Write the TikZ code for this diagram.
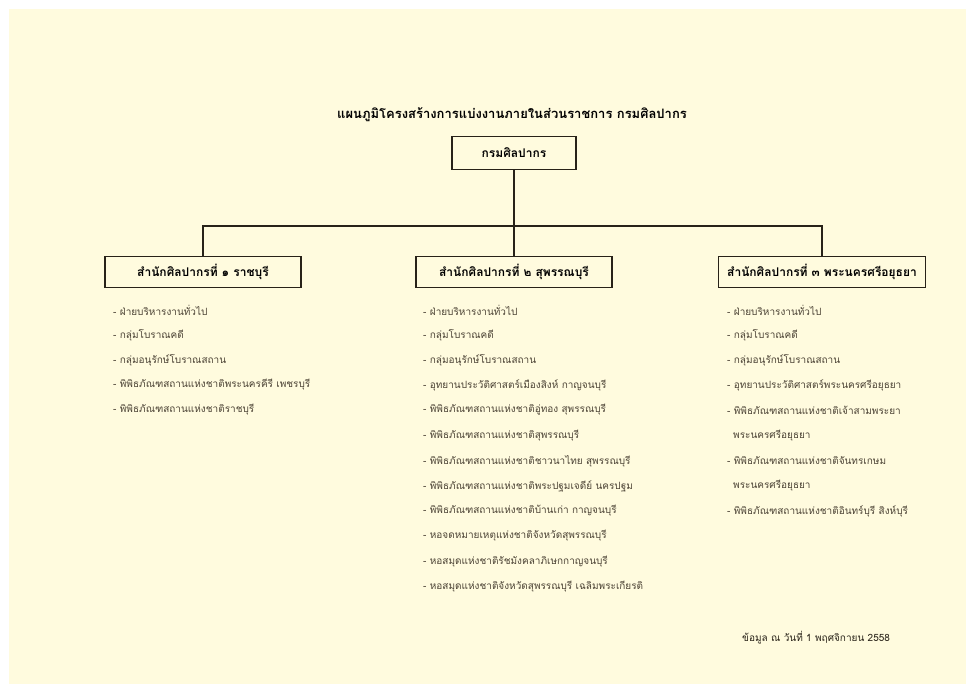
\documentclass[tikz,border=0pt]{standalone}
\usepackage{fontspec}
\newfontfamily\thai[Script=Thai]{Loma}
\definecolor{cream}{RGB}{255,251,222}
\definecolor{ink}{RGB}{40,34,24}
\definecolor{itemc}{RGB}{75,66,52}
\begin{document}
\begin{tikzpicture}[x=1pt,y=-1pt,
  box/.style={draw=ink,line width=1.3pt,fill=cream,inner sep=0pt,minimum height=31pt,font=\thai\bfseries\fontsize{12}{14}\selectfont,text=black},
  item/.style={anchor=west,inner sep=0pt,font=\thai\fontsize{10}{12}\selectfont,text=itemc},
  conn/.style={draw=ink,line width=1.3pt}]
\useasboundingbox (0,0) rectangle (966,684);
\fill[white] (0,0) rectangle (966,684);
\fill[cream] (9,9) rectangle (966,684);
\node[inner sep=0pt,font=\thai\bfseries\fontsize{13}{15}\selectfont,text=black] (title) at (512,115) {แผนภูมิโครงสร้างการแบ่งงานภายในส่วนราชการ กรมศิลปากร};
\node[box,minimum width=124pt,minimum height=33pt] (top) at (514,153) {กรมศิลปากร};
\node[box,minimum width=196pt] (b1) at (203,272) {สำนักศิลปากรที่ ๑ ราชบุรี};
\node[box,minimum width=196pt] (b2) at (514,272) {สำนักศิลปากรที่ ๒ สุพรรณบุรี};
\node[box,minimum width=207pt] (b3) at (822,272) {สำนักศิลปากรที่ ๓ พระนครศรีอยุธยา};
\coordinate (j) at (514,226);
\draw[conn] (top.south) -- (b2.north);
\draw[conn] (j) -| (b1.north);
\draw[conn] (j) -| (b3.north);
% left column
\node[item] (l1) at (113,310) {- ฝ่ายบริหารงานทั่วไป};
\node[item] (l2) at (113,335) {- กลุ่มโบราณคดี};
\node[item] (l3) at (113,360) {- กลุ่มอนุรักษ์โบราณสถาน};
\node[item] (l4) at (113,385) {- พิพิธภัณฑสถานแห่งชาติพระนครคีรี เพชรบุรี};
\node[item] (l5) at (113,410) {- พิพิธภัณฑสถานแห่งชาติราชบุรี};
% middle column
\node[item] (m1) at (423,310) {- ฝ่ายบริหารงานทั่วไป};
\node[item] (m2) at (423,335) {- กลุ่มโบราณคดี};
\node[item] (m3) at (423,360) {- กลุ่มอนุรักษ์โบราณสถาน};
\node[item] (m4) at (423,385) {- อุทยานประวัติศาสตร์เมืองสิงห์ กาญจนบุรี};
\node[item] (m5) at (423,410) {- พิพิธภัณฑสถานแห่งชาติอู่ทอง สุพรรณบุรี};
\node[item] (m6) at (423,436) {- พิพิธภัณฑสถานแห่งชาติสุพรรณบุรี};
\node[item] (m7) at (423,461) {- พิพิธภัณฑสถานแห่งชาติชาวนาไทย สุพรรณบุรี};
\node[item] (m8) at (423,486) {- พิพิธภัณฑสถานแห่งชาติพระปฐมเจดีย์ นครปฐม};
\node[item] (m9) at (423,511) {- พิพิธภัณฑสถานแห่งชาติบ้านเก่า กาญจนบุรี};
\node[item] (m10) at (423,536) {- หอจดหมายเหตุแห่งชาติจังหวัดสุพรรณบุรี};
\node[item] (m11) at (423,562) {- หอสมุดแห่งชาติรัชมังคลาภิเษกกาญจนบุรี};
\node[item] (m12) at (423,587) {- หอสมุดแห่งชาติจังหวัดสุพรรณบุรี เฉลิมพระเกียรติ};
% right column
\node[item] (r1) at (727,310) {- ฝ่ายบริหารงานทั่วไป};
\node[item] (r2) at (727,335) {- กลุ่มโบราณคดี};
\node[item] (r3) at (727,360) {- กลุ่มอนุรักษ์โบราณสถาน};
\node[item] (r4) at (727,385) {- อุทยานประวัติศาสตร์พระนครศรีอยุธยา};
\node[item] (r5) at (727,410) {- พิพิธภัณฑสถานแห่งชาติเจ้าสามพระยา};
\node[item] (r5b) at (733,436) {พระนครศรีอยุธยา};
\node[item] (r6) at (727,461) {- พิพิธภัณฑสถานแห่งชาติจันทรเกษม};
\node[item] (r6b) at (733,486) {พระนครศรีอยุธยา};
\node[item] (r7) at (727,511) {- พิพิธภัณฑสถานแห่งชาติอินทร์บุรี สิงห์บุรี};
\node[item,text=ink] (note) at (742,638) {ข้อมูล ณ วันที่ 1 พฤศจิกายน 2558};
\end{tikzpicture}
\end{document}
